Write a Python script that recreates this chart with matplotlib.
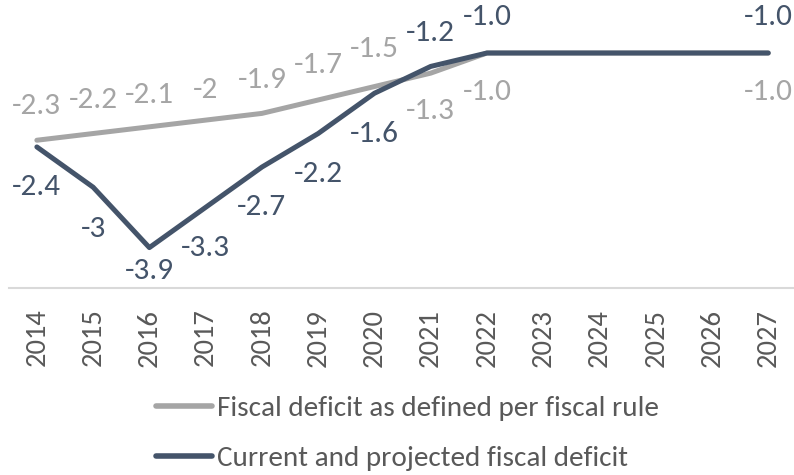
import matplotlib
matplotlib.use("Agg")
import matplotlib.pyplot as plt

years = list(range(2014, 2028))
rule_deficit = [-2.3, -2.2, -2.1, -2.0, -1.9, -1.7, -1.5, -1.3, -1.0,
                -1.0, -1.0, -1.0, -1.0, -1.0]
actual_deficit = [-2.4, -3.0, -3.9, -3.3, -2.7, -2.2, -1.6, -1.2, -1.0,
                  -1.0, -1.0, -1.0, -1.0, -1.0]
rule_labels = ["-2.3", "-2.2", "-2.1", "-2", "-1.9", "-1.7", "-1.5", "-1.3", "-1.0",
               "", "", "", "", "-1.0"]
actual_labels = ["-2.4", "-3", "-3.9", "-3.3", "-2.7", "-2.2", "-1.6", "-1.2", "-1.0",
                 "", "", "", "", "-1.0"]

GREY = "#a5a5a5"
NAVY = "#44546a"

plt.rcParams["font.family"] = ["Carlito", "DejaVu Sans"]

# label offsets in points (vertical), above > 0, below < 0
rule_off = [25, 24, 23, 22, 24, 25, 27, -27, -28, 0, 0, 0, 0, -28]
actual_off = [-29, -30, -17, -29, -29, -29, -29, 24, 26, 0, 0, 0, 0, 26]

fig = plt.figure(figsize=(7.94, 4.75), dpi=100)
ax = fig.add_axes([0.011, 0.394, 0.992, 0.606])

ax.plot(years, rule_deficit, color=GREY, lw=3.6, solid_capstyle="round",
        label="Fiscal deficit as defined per fiscal rule")
ax.plot(years, actual_deficit, color=NAVY, lw=3.6, solid_capstyle="round",
        label="Current and projected fiscal deficit")

for x, y, t, o in zip(years, rule_deficit, rule_labels, rule_off):
    if t:
        ax.annotate(t, (x, y), xytext=(0, o), textcoords="offset points",
                    ha="center", va="center", fontsize=22.5, color=GREY)
for x, y, t, o in zip(years, actual_deficit, actual_labels, actual_off):
    if t:
        ax.annotate(t, (x, y), xytext=(0, o), textcoords="offset points",
                    ha="center", va="center", fontsize=22.5, color=NAVY)

ax.set_xlim(2013.5, 2027.5)
ax.set_ylim(-4.5, -0.21)
ax.set_xticks(years)
ax.set_xticklabels([str(y) for y in years], rotation=90, fontsize=20.5,
                   color="#595959")
ax.tick_params(axis="x", length=0, pad=15)
ax.set_yticks([])
for side in ["top", "right", "left"]:
    ax.spines[side].set_visible(False)
ax.spines["bottom"].set_color("#d9d9d9")
ax.spines["bottom"].set_linewidth(1.5)

leg = fig.legend(loc="center", bbox_to_anchor=(0.513, 0.088), ncol=1,
                 frameon=False, handlelength=1.9, handletextpad=0.17,
                 labelspacing=0.85, labelcolor="#595959", fontsize=21)
for line in leg.get_lines():
    line.set_linewidth(4)

fig.savefig("out.png", dpi=100)
